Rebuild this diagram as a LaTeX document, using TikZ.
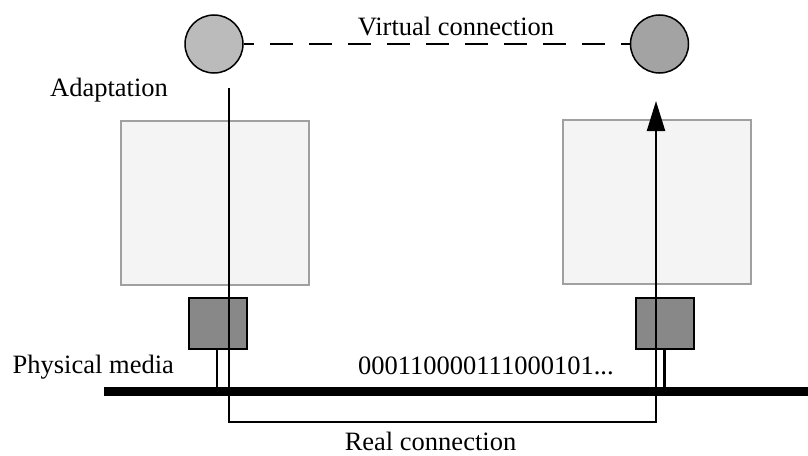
\documentclass[tikz,border=0pt]{standalone}
\usepackage{fontspec}
\setmainfont{Liberation Serif}
\usetikzlibrary{arrows.meta}
\definecolor{circA}{HTML}{BBBBBB}
\definecolor{circB}{HTML}{A3A3A3}
\definecolor{layerfill}{HTML}{F4F4F4}
\definecolor{layeredge}{HTML}{A0A0A0}
\definecolor{portfill}{HTML}{888888}
\tikzset{
  endpoint/.style={circle, draw=black, line width=1.5pt, minimum size=58pt, inner sep=0pt},
  layerbox/.style={rectangle, draw=layeredge, fill=layerfill, line width=2pt, minimum width=188pt, minimum height=164pt, inner sep=0pt},
  portbox/.style={rectangle, draw=black, fill=portfill, line width=2pt, minimum width=58pt, minimum height=51pt, inner sep=0pt},
  label/.style={font=\fontsize{26.5}{30}\selectfont, inner sep=0pt},
  wire/.style={line width=2.2pt},
  medium/.style={line width=9.5pt},
}
\begin{document}
\begin{tikzpicture}[x=1pt, y=-1pt]
  \useasboundingbox (0,0) rectangle (808,455);

  % protocol layers and network interfaces
  \node[layerbox] (layerL) at (215,202.5) {};
  \node[layerbox] (layerR) at (656.5,201.5) {};
  \node[portbox] (portL) at (217.5,323.5) {};
  \node[portbox] (portR) at (665,323.5) {};

  % peer endpoints and their virtual link
  \node[endpoint, fill=circA] (peerL) at (214,44) {};
  \node[endpoint, fill=circB] (peerR) at (659.5,44) {};
  \draw[wire, dash pattern=on 23pt off 16pt, dash phase=13pt] (peerL.east) -- (peerR.west);

  % the shared physical medium
  \coordinate (busL) at (104,391.5);
  \coordinate (busR) at (808,391.5);

  % interface taps onto the medium
  \coordinate (tapL) at (217,387);
  \coordinate (tapR) at (664.5,387);
  \draw[wire] (portL.south -| tapL) -- (tapL);
  \draw[wire] (portR.south -| tapR) -- (tapR);

  % real data path
  \coordinate (srcTop) at (229,88);
  \coordinate (loopL) at (229,422);
  \coordinate (loopR) at (656,422);
  \coordinate (dstTop) at (656,101);
  \draw[wire, -{Triangle[length=30pt, width=18pt]}] (srcTop) -- (loopL) -- (loopR) -- (dstTop);

  \draw[medium] (busL) -- (busR);

  % labels
  \node[label, anchor=base] (virt) at (456,35) {Virtual connection};
  \node[label, anchor=base west] (adapt) at (50,96) {Adaptation};
  \node[label, anchor=base west] (phys) at (12.5,373) {Physical media};
  \node[label, anchor=base west] (bits) at (358,374) {000110000111000101...};
  \node[label, anchor=base] (real) at (430.5,450.5) {Real connection};
\end{tikzpicture}
\end{document}
